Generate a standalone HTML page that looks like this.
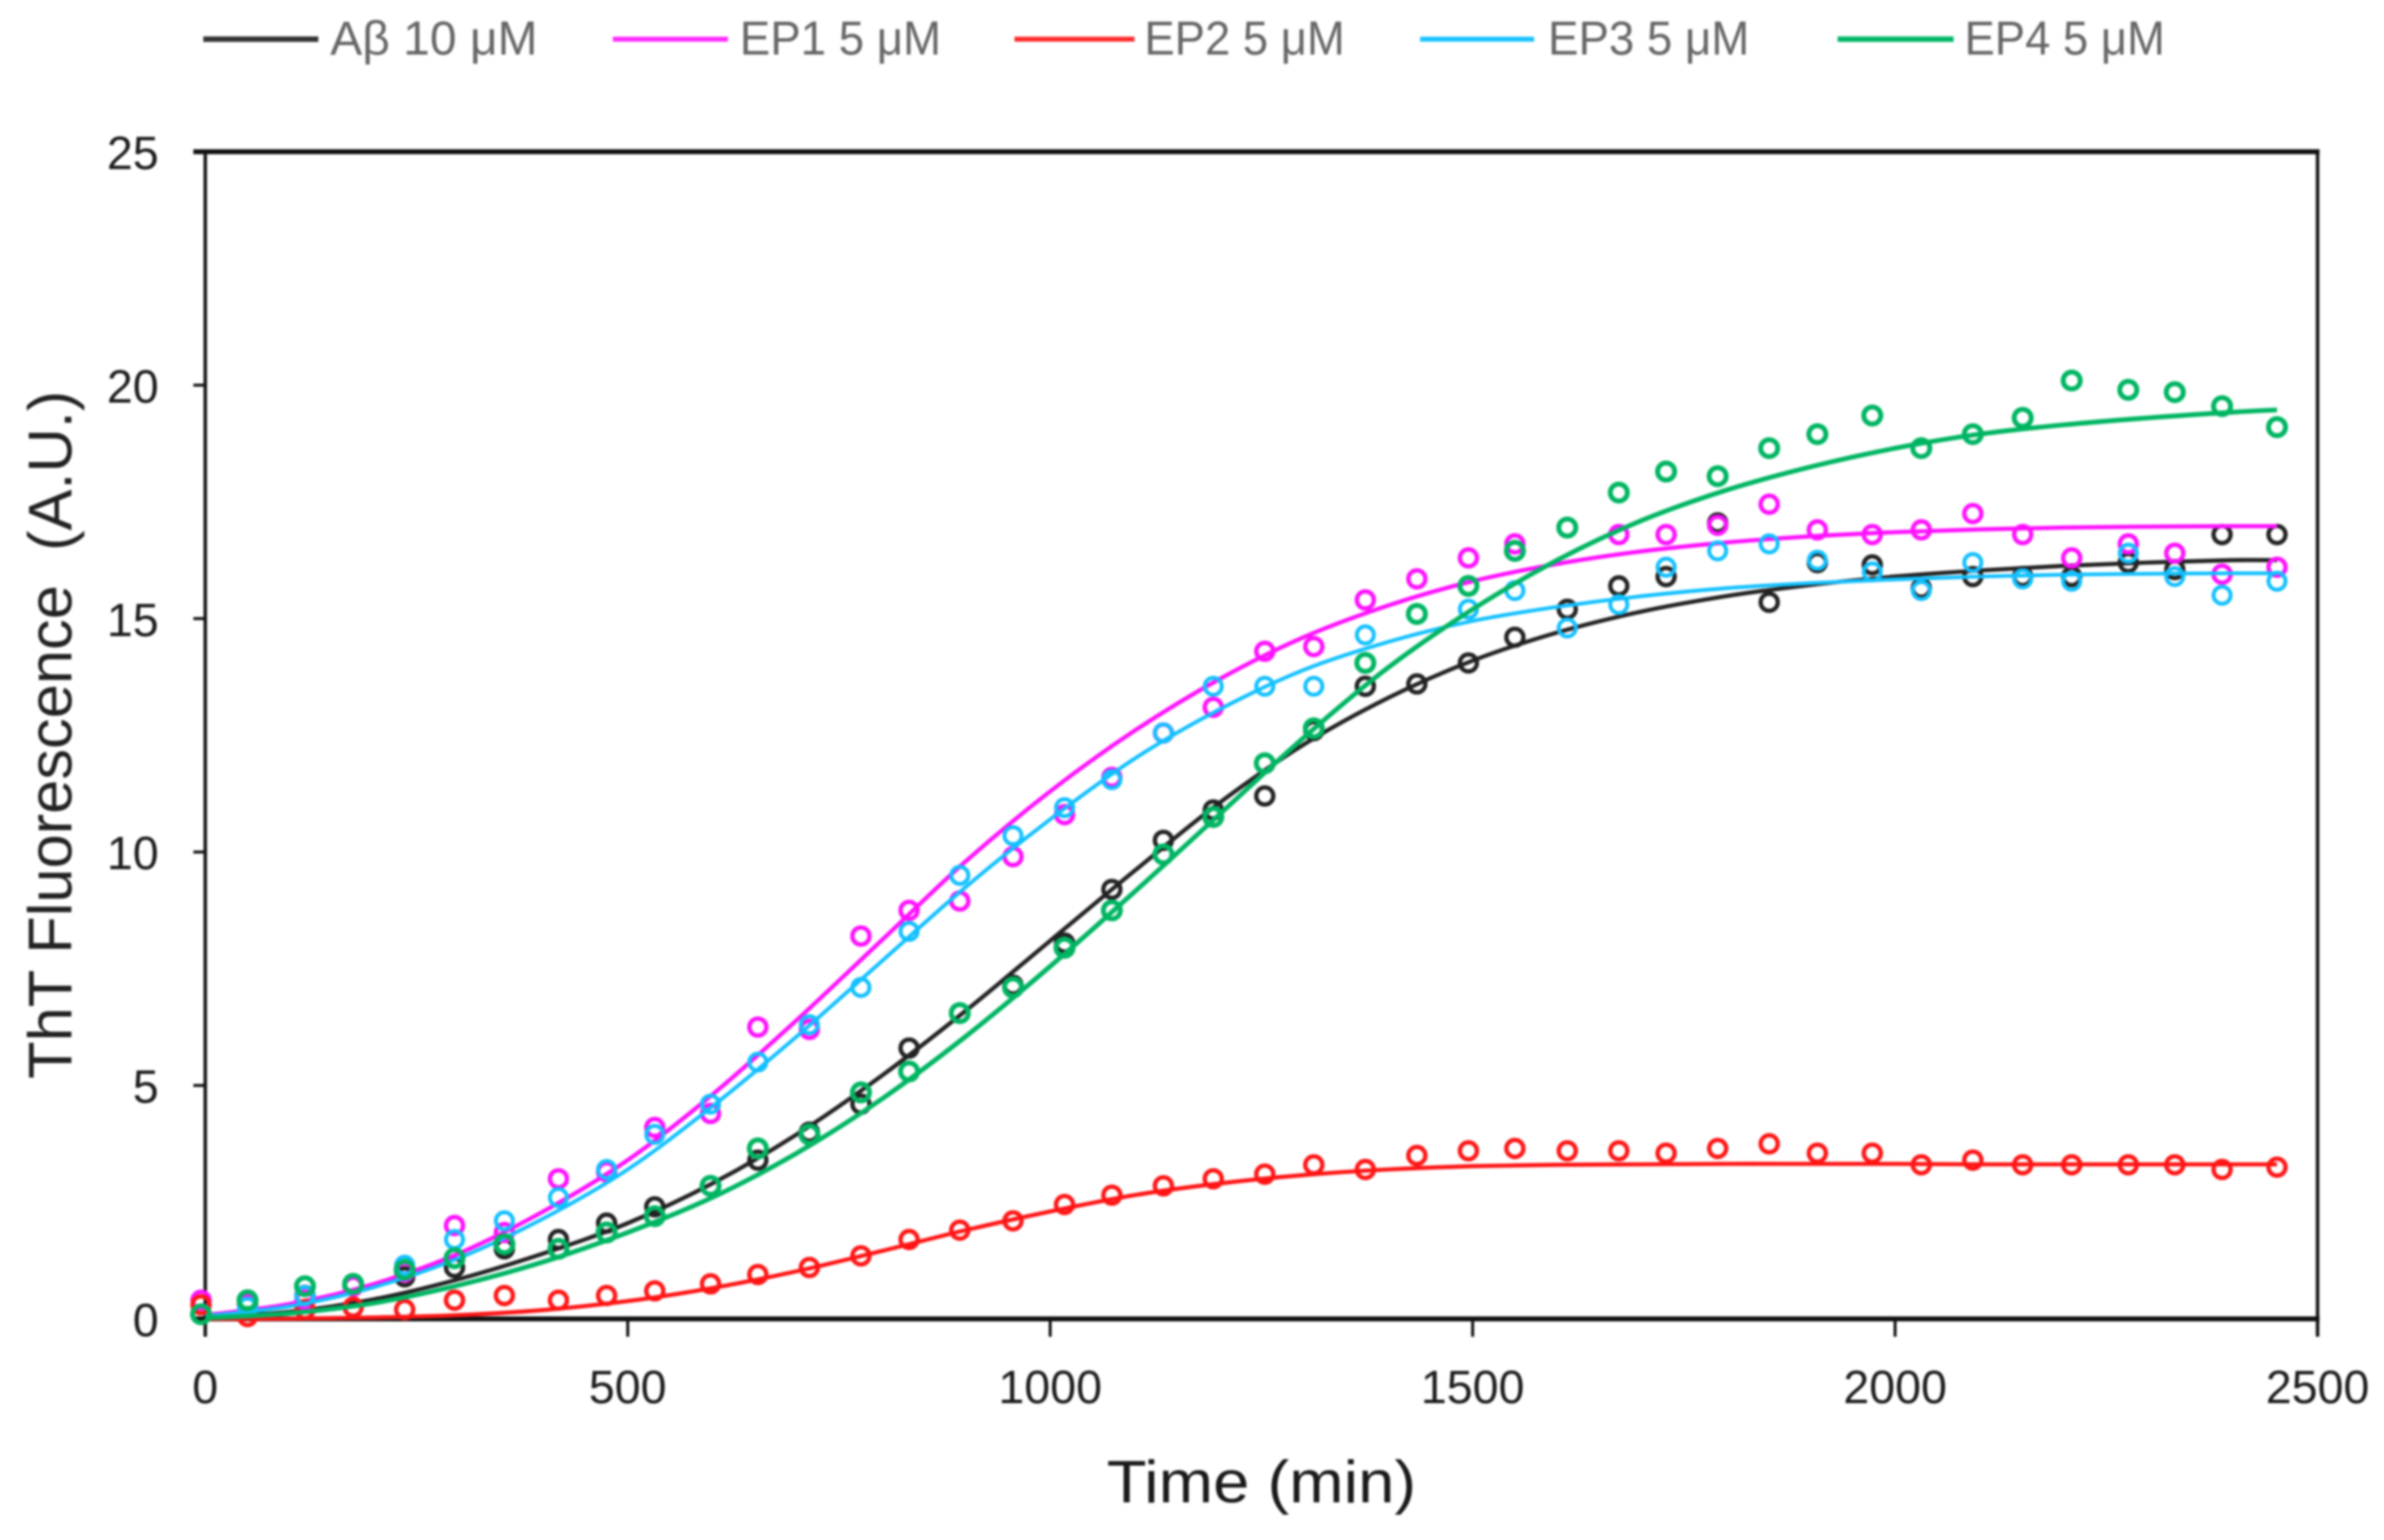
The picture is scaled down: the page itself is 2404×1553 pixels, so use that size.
<!DOCTYPE html>
<html lang="en">
<head>
<meta charset="utf-8">
<title>ThT Fluorescence vs Time</title>
<style>
html,body{margin:0;padding:0;background:#fff;width:2404px;height:1553px;overflow:hidden}
svg{display:block;filter:blur(1px)}
text{font-family:"Liberation Sans",sans-serif}
</style>
</head>
<body>
<svg id="chart" xmlns="http://www.w3.org/2000/svg" width="2404" height="1553" viewBox="0 0 2404 1553">
  <rect x="0" y="0" width="2404" height="1553" fill="#fff"/>
  <g id="legend">
    <g>
      <line x1="205" y1="39.5" x2="321" y2="39.5" stroke="#333" stroke-width="5.5"/>
      <text x="333" y="55" font-size="48" fill="#666" textLength="209" lengthAdjust="spacingAndGlyphs">Aβ 10 μM</text>
    </g>
    <g>
      <line x1="618" y1="39.5" x2="734" y2="39.5" stroke="#ff2bff" stroke-width="5"/>
      <text x="746" y="55" font-size="48" fill="#666" textLength="203" lengthAdjust="spacingAndGlyphs">EP1 5 μM</text>
    </g>
    <g>
      <line x1="1023" y1="39.5" x2="1144" y2="39.5" stroke="#ff2a2a" stroke-width="5"/>
      <text x="1154" y="55" font-size="48" fill="#666" textLength="202" lengthAdjust="spacingAndGlyphs">EP2 5 μM</text>
    </g>
    <g>
      <line x1="1432" y1="39.5" x2="1547" y2="39.5" stroke="#19c3ff" stroke-width="5"/>
      <text x="1561" y="55" font-size="48" fill="#666" textLength="203" lengthAdjust="spacingAndGlyphs">EP3 5 μM</text>
    </g>
    <g>
      <line x1="1853" y1="39.5" x2="1970" y2="39.5" stroke="#00b765" stroke-width="5.5"/>
      <text x="1981" y="55" font-size="48" fill="#666" textLength="202" lengthAdjust="spacingAndGlyphs">EP4 5 μM</text>
    </g>
  </g>
  <text transform="translate(72 741) rotate(-90)" text-anchor="middle" font-size="62" fill="#222" textLength="694" lengthAdjust="spacingAndGlyphs" xml:space="preserve">ThT Fluorescence  (A.U.)</text>
  <text x="1116" y="1515" font-size="60" fill="#1a1a1a" textLength="312" lengthAdjust="spacingAndGlyphs">Time (min)</text>
  <g id="axes"></g>
  <g id="series"></g>
</svg>
<script>
const xTickLabels = [0, 500, 1000, 1500, 2000, 2500];
const yTickLabels = [0, 5, 10, 15, 20, 25];

const sampleTimes = [-5,50,118,175,236,295,354,418,475,532,598,654,715,776,833,893,956,1017,1073,1134,1193,1254,1312,1373,1434,1495,1550,1612,1673,1729,1790,1851,1908,1973,2031,2092,2151,2209,2276,2331,2387,2452];
const abetaPoints = [0.1,0.3,0.5,0.7,0.9,1.1,1.5,1.7,2.05,2.4,2.85,3.4,4.0,4.6,5.8,6.55,7.15,8.05,9.2,10.25,10.9,11.2,12.6,13.55,13.6,14.05,14.6,15.2,15.7,15.9,17.05,15.35,16.2,16.15,15.65,15.9,15.9,15.9,16.2,16.05,16.8,16.8];
const ep1Points = [0.4,0.3,0.4,0.7,1.0,2.0,1.85,3.0,3.15,4.1,4.4,6.25,6.2,8.2,8.75,8.95,9.9,10.8,11.6,12.55,13.1,14.3,14.4,15.4,15.85,16.3,16.6,16.95,16.8,16.8,17.0,17.45,16.9,16.8,16.9,17.25,16.8,16.3,16.6,16.4,15.95,16.1];
const ep2Points = [0.3,0.05,0.2,0.25,0.2,0.4,0.5,0.4,0.5,0.6,0.75,0.95,1.1,1.35,1.7,1.9,2.1,2.45,2.65,2.85,3.0,3.1,3.3,3.2,3.5,3.6,3.65,3.6,3.6,3.55,3.65,3.75,3.55,3.55,3.3,3.4,3.3,3.3,3.3,3.3,3.2,3.25];
const ep3Points = [0.1,0.25,0.5,0.75,1.15,1.7,2.1,2.6,3.2,3.95,4.6,5.5,6.3,7.1,8.3,9.5,10.35,10.95,11.55,12.55,13.55,13.55,13.55,14.65,15.1,15.2,15.6,14.8,15.3,16.1,16.45,16.6,16.25,16.0,15.6,16.2,15.85,15.8,16.4,15.9,15.5,15.8];
const ep4Points = [0.1,0.4,0.7,0.75,1.05,1.3,1.6,1.5,1.85,2.2,2.85,3.65,3.95,4.85,5.3,6.55,7.1,7.95,8.75,9.95,10.75,11.9,12.65,14.05,15.1,15.7,16.45,16.95,17.7,18.15,18.05,18.65,18.95,19.35,18.65,18.95,19.3,20.1,19.9,19.85,19.55,19.1];

const fitTimes = [0,100,200,300,400,500,600,700,800,900,1000,1100,1200,1300,1400,1500,1600,1700,1800,1900,2000,2100,2200,2300,2400,2452];
const abetaFit = [0.03,0.15,0.42,0.85,1.4,2.05,2.9,3.95,5.2,6.6,8.1,9.6,11.05,12.3,13.3,14.1,14.7,15.15,15.48,15.72,15.9,16.03,16.13,16.2,16.25,16.25];
const ep1Fit = [0.08,0.32,0.75,1.4,2.3,3.4,4.8,6.4,8.1,9.8,11.3,12.6,13.7,14.6,15.28,15.8,16.17,16.44,16.63,16.76,16.85,16.91,16.95,16.97,16.98,16.98];
const ep2Fit = [0,0.005,0.03,0.08,0.19,0.38,0.66,1.02,1.45,1.9,2.3,2.65,2.9,3.08,3.2,3.27,3.3,3.31,3.32,3.32,3.32,3.31,3.31,3.31,3.31,3.31];
const ep3Fit = [0.06,0.27,0.68,1.3,2.15,3.2,4.55,6.05,7.65,9.25,10.7,12.0,13.05,13.9,14.5,14.95,15.25,15.48,15.65,15.76,15.84,15.9,15.94,15.96,15.97,15.97];
const ep4Fit = [0.02,0.12,0.34,0.72,1.22,1.85,2.6,3.55,4.7,6.05,7.55,9.15,10.8,12.45,13.95,15.2,16.25,17.1,17.75,18.25,18.65,18.95,19.15,19.3,19.42,19.47];

const SVG_NS = 'http://www.w3.org/2000/svg';
const plotLeft = 207, plotRight = 2337, plotTop = 153, plotBottom = 1330;
const xMax = 2500, yMax = 25;
function xScale(v) { return plotLeft + (v / xMax) * (plotRight - plotLeft); }
function yScale(v) { return plotBottom - (v / yMax) * (plotBottom - plotTop); }
function make(tag, attrs) {
  const el = document.createElementNS(SVG_NS, tag);
  for (const k in attrs) el.setAttribute(k, attrs[k]);
  return el;
}
const axes = document.getElementById('axes');

const frameTop = make('line', {x1: plotLeft - 12, y1: plotTop, x2: plotRight + 2, y2: plotTop, stroke: '#111', 'stroke-width': 5});


axes.appendChild(frameTop);

const frameRight = make('line', {x1: plotRight, y1: plotTop, x2: plotRight, y2: plotBottom + 18, stroke: '#111', 'stroke-width': 3.5});


axes.appendChild(frameRight);

const axisY = make('line', {x1: plotLeft, y1: plotTop, x2: plotLeft, y2: plotBottom + 18, stroke: '#111', 'stroke-width': 3.5});


axes.appendChild(axisY);

const axisX = make('line', {x1: plotLeft - 12, y1: plotBottom, x2: plotRight + 2, y2: plotBottom, stroke: '#111', 'stroke-width': 5});


axes.appendChild(axisX);

xTickLabels.forEach(function (v) {
  const px = xScale(v);
  const tick = make('line', {x1: px, y1: plotBottom, x2: px, y2: plotBottom + 18, stroke: '#111', 'stroke-width': 3});
  
  
  axes.appendChild(tick);
  const label = make('text', {x: px, y: 1415, 'text-anchor': 'middle', 'font-size': 47, fill: '#1c1c1c'});
  
  
  label.textContent = String(v);
  axes.appendChild(label);
});

yTickLabels.forEach(function (v) {
  const py = yScale(v);
  const tick = make('line', {x1: plotLeft - 12, y1: py, x2: plotLeft, y2: py, stroke: '#111', 'stroke-width': 3});
  
  
  axes.appendChild(tick);
  const label = make('text', {x: 160, y: py + 17.5, 'text-anchor': 'end', 'font-size': 47, fill: '#1c1c1c'});
  
  
  label.textContent = String(v);
  axes.appendChild(label);
});

function smoothPath(xs, ys) {
  const pts = xs.map(function (x, i) { return [xScale(x), yScale(ys[i])]; });
  let d = 'M' + pts[0][0].toFixed(1) + ' ' + pts[0][1].toFixed(1);
  for (let i = 0; i < pts.length - 1; i++) {
    const p0 = pts[Math.max(i - 1, 0)], p1 = pts[i], p2 = pts[i + 1], p3 = pts[Math.min(i + 2, pts.length - 1)];
    const c1x = p1[0] + (p2[0] - p0[0]) / 6, c1y = p1[1] + (p2[1] - p0[1]) / 6;
    const c2x = p2[0] - (p3[0] - p1[0]) / 6, c2y = p2[1] - (p3[1] - p1[1]) / 6;
    d += 'C' + c1x.toFixed(1) + ' ' + c1y.toFixed(1) + ' ' + c2x.toFixed(1) + ' ' + c2y.toFixed(1) + ' ' + p2[0].toFixed(1) + ' ' + p2[1].toFixed(1);
  }
  return d;
}

const seriesRoot = document.getElementById('series');
function drawSeries(name, color, fit, points, lineWidth, markerWidth) {
  const group = make('g', {});
  
  
  const path = make('path', {d: smoothPath(fitTimes, fit), fill: 'none', stroke: color, 'stroke-width': lineWidth, 'stroke-linecap': 'butt'});
  
  
  group.appendChild(path);
  points.forEach(function (v, i) {
    const c = make('circle', {cx: xScale(sampleTimes[i]), cy: yScale(v), r: 8.6, fill: 'none', stroke: color, 'stroke-width': markerWidth});
    
    
    group.appendChild(c);
  });
  seriesRoot.appendChild(group);
}
drawSeries('abeta', '#222222', abetaFit, abetaPoints, 4.2, 4.4);
drawSeries('ep1', '#ff10ff', ep1Fit, ep1Points, 4.2, 4.4);
drawSeries('ep2', '#ff1515', ep2Fit, ep2Points, 4.2, 4.4);
drawSeries('ep3', '#12c0ff', ep3Fit, ep3Points, 3.8, 4);
drawSeries('ep4', '#00b562', ep4Fit, ep4Points, 4.8, 5);
</script>
</body>
</html>
